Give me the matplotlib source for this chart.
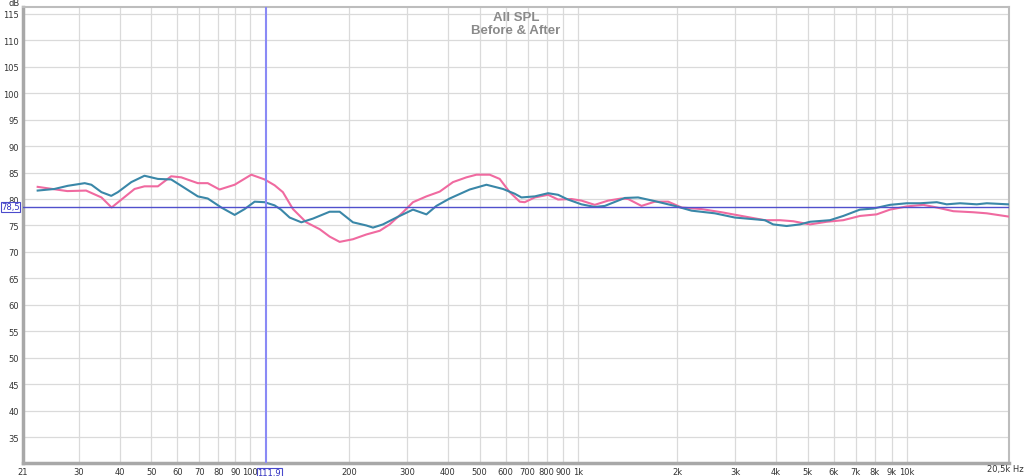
import numpy as np
import matplotlib
matplotlib.use("Agg")
import matplotlib.pyplot as plt

# pink = before, blue = after
before_freq = [22.5, 27.7, 31.6, 35.2, 37.8, 44.4, 47.6, 52.3, 57.4, 61.6, 69.2, 74.2,
               80.6, 89.6, 100.7, 110.6, 118.6, 125.7, 134.9, 148.1, 162.7, 174.5,
               187.2, 205.5, 225.8, 248, 265.9, 291.9, 313.1, 344.1, 377.7, 414.6,
               455.5, 488.7, 536.5, 575.4, 617.2, 662.2, 685.9, 735.9, 807.9, 866.6,
               952.1, 1021, 1121, 1231, 1352, 1417, 1556, 1709, 1876, 2061, 2371,
               2729, 3141, 3698, 4109, 4511, 5072, 5703, 6409, 7205, 8101, 8895,
               10000, 11240, 12350, 13870, 15960, 17540, 20360]
before_db = [82.3, 81.5, 81.6, 80.3, 78.4, 81.9, 82.4, 82.4, 84.3, 84.1, 83.0, 83.0,
             81.8, 82.7, 84.6, 83.7, 82.6, 81.3, 78.1, 75.6, 74.3, 72.9,
             71.9, 72.4, 73.3, 74.0, 75.2, 77.5, 79.4, 80.5, 81.4, 83.2,
             84.1, 84.6, 84.6, 83.8, 81.3, 79.5, 79.4, 80.3, 80.8, 79.9,
             80.0, 79.7, 78.9, 79.7, 80.1, 80.0, 78.7, 79.5, 79.5, 78.4, 78.1,
             77.5, 76.8, 76.0, 76.0, 75.8, 75.2, 75.7, 76.0, 76.8, 77.1, 78.0,
             78.6, 78.9, 78.4, 77.7, 77.5, 77.3, 76.7]

after_freq = [22.5, 25.3, 27.8, 31.3, 32.8, 35.2, 37.7, 39.5, 43.4, 47.6, 52.3, 57.4,
              61.6, 69.2, 74.2, 81.6, 89.6, 96.1, 103.1, 110.6, 118.6, 124, 131.8,
              143.1, 155.2, 174.5, 187.2, 205.5, 225.8, 236.5, 253.6, 278.7, 313.1,
              344.1, 369.1, 405.1, 466.2, 524.3, 589, 639.4, 670.2, 735.9, 807.9,
              866.6, 929.6, 1021, 1121, 1203, 1384, 1519, 1709, 1966, 2211, 2603,
              2996, 3698, 3920, 4307, 4729, 5072, 5838, 6409, 7205, 7910, 8895,
              10000, 10980, 12350, 13240, 14540, 16350, 17540, 20360]
after_db = [81.6, 81.9, 82.5, 83.0, 82.7, 81.3, 80.6, 81.3, 83.2, 84.4, 83.8, 83.7,
            82.5, 80.5, 80.1, 78.4, 77.0, 78.1, 79.5, 79.4, 78.8, 78.0, 76.5,
            75.6, 76.3, 77.6, 77.6, 75.6, 75.0, 74.6, 75.2, 76.5, 78.0,
            77.1, 78.7, 80.1, 81.8, 82.7, 81.9, 81.0, 80.3, 80.5, 81.1,
            80.8, 79.9, 79.0, 78.5, 78.7, 80.2, 80.3, 79.6, 78.7, 77.8, 77.3,
            76.5, 76.0, 75.2, 74.9, 75.2, 75.7, 76.0, 76.8, 78.0, 78.2, 78.9,
            79.2, 79.2, 79.4, 79.0, 79.2, 79.0, 79.2, 79.0]

x_ticks = [30, 40, 50, 60, 70, 80, 90, 100, 200, 300, 400, 500, 600, 700, 800, 900,
           1000, 2000, 3000, 4000, 5000, 6000, 7000, 8000, 9000, 10000]
x_labels = ["30", "40", "50", "60", "70", "80", "90", "100", "200", "300", "400", "500",
            "600", "700", "800", "900", "1k", "2k", "3k", "4k", "5k", "6k", "7k", "8k",
            "9k", "10k"]
y_ticks = [35, 40, 45, 50, 55, 60, 65, 70, 75, 80, 85, 90, 95, 100, 105, 110, 115]

cursor_f = 111.9
cursor_db = 78.5

fig = plt.figure(figsize=(10.24, 4.77), dpi=100)
ax = fig.add_axes([23/1024, 13/477, 986/1024, 456/477])
ax.set_xscale("log")
ax.set_xlim(20.3, 20500)
ax.set_ylim(30.1, 116.3)

grid_c = "#dadada"
for f in x_ticks:
    ax.axvline(f, color=grid_c, lw=0.9, zorder=0)
for y in y_ticks:
    ax.axhline(y, color=grid_c, lw=0.9, zorder=0)

ax.plot(before_freq, before_db, color="#f06aa0", lw=1.5, zorder=3)
ax.plot(after_freq, after_db, color="#3a87a8", lw=1.5, zorder=4)

ax.axvline(cursor_f, color="#8a8af5", lw=1.5, zorder=5)
ax.axhline(cursor_db, color="#5050cc", lw=1, zorder=5)

ax.minorticks_off()
ax.set_xticks([20.3] + x_ticks)
ax.set_xticklabels(["21"] + x_labels)
ax.set_yticks(y_ticks)
ax.set_yticklabels([str(v) for v in y_ticks])
ax.tick_params(axis="both", length=0, labelsize=6, colors="#333333")
ax.tick_params(axis="x", pad=3)
ax.tick_params(axis="y", pad=3)

for side in ["left", "bottom"]:
    ax.spines[side].set_color("#a8a8a8")
    ax.spines[side].set_linewidth(2.5)
for side in ["top", "right"]:
    ax.spines[side].set_color("#bdbdbd")
    ax.spines[side].set_linewidth(1.5)

fig.text(1005/1024, 1 - 470/477, "20,5k Hz", fontsize=6, color="#333333",
         ha="center", va="center")
fig.text(14/1024, 1 - 4/477, "dB", fontsize=6, color="#333333", ha="center", va="center")

ax.text(0.5, 0.992, "All SPL\nBefore & After", transform=ax.transAxes,
        ha="center", va="top", fontsize=9.5, fontweight="bold", color="#8a8a8a",
        family=["Liberation Sans", "DejaVu Sans"], linespacing=1.15)

box = dict(boxstyle="square,pad=0.08", fc="white", ec="#4a4acc", lw=0.8)
ax.annotate("111,9", xy=(cursor_f, 0), xycoords=("data", "axes fraction"),
            xytext=(2, -7), textcoords="offset points", ha="center", va="center",
            fontsize=6, color="#3030c0", bbox=box, annotation_clip=False, zorder=6)
ax.annotate("78,5", xy=(0, cursor_db), xycoords=("axes fraction", "data"),
            xytext=(-9, 0), textcoords="offset points", ha="center", va="center",
            fontsize=6, color="#3030c0", bbox=box, annotation_clip=False, zorder=6)

fig.savefig("out.png", dpi=100)
